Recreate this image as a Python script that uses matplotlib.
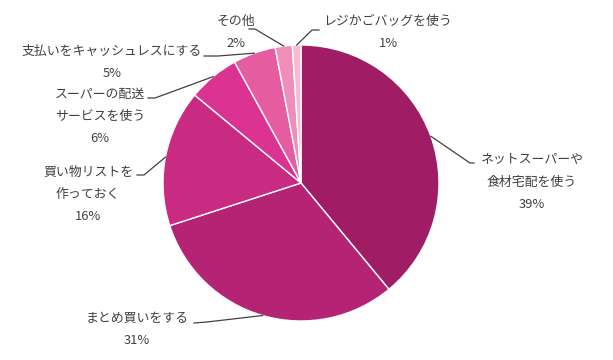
import matplotlib.pyplot as plt
import numpy as np

plt.rcParams['font.family'] = ['Noto Sans CJK JP', 'DejaVu Sans']

# データ
labels = ['ネットスーパーや\n食材宅配を使う', 'まとめ買いをする', '買い物リストを\n作っておく',
          'スーパーの配送\nサービスを使う', '支払いをキャッシュレスにする', 'その他', 'レジかごバッグを使う']
values = [39, 31, 16, 6, 5, 2, 1]
colors = ['#A01C64', '#B52474', '#C92B82', '#DC3292', '#E55CA1', '#EE8EB9', '#F5BBD4']

# ラベル配置（ピクセル座標、上から）
text_xy = [(532, 160), (137, 318), (88, 172), (100, 94), (112, 51), (236, 21), (388, 21)]
kinks = [(470, 163), (207, 322), (144, 175), (155, 98), (218, 56), (255, 29), (312, 30)]
tails = [(474, 163), (194, 323), (137, 175), (148, 98), (204, 56), (249, 29), (319, 30)]

W, H = 613, 360
cx, cy, r = 301, 183, 138
line_h = 22.5
txt_color = '#404040'

fig = plt.figure(figsize=(W / 100, H / 100), dpi=100)
ax = fig.add_axes([0, 0, 1, 1])

wedges, _ = ax.pie(values, colors=colors, startangle=90, counterclock=False,
                   center=(cx, H - cy), radius=r,
                   wedgeprops=dict(edgecolor='white', linewidth=1))
ax.set_xlim(0, W)
ax.set_ylim(0, H)
ax.set_aspect('equal')
ax.axis('off')

for w, lab, val, (tx, ty), (kx, ky), (ex, ey) in zip(wedges, labels, values, text_xy, kinks, tails):
    mid = np.deg2rad((w.theta1 + w.theta2) / 2)
    px = cx + r * np.cos(mid)
    py = (H - cy) + r * np.sin(mid)
    ax.plot([px, kx, ex], [py, H - ky, H - ey], color='#404040', lw=0.9)
    lines = lab.split('\n') + [f'{val}%']
    for i, s in enumerate(lines):
        ax.text(tx, H - (ty + i * line_h), s, ha='center', va='center',
                fontsize=9.3, color=txt_color)

fig.savefig('out.png', dpi=100)
